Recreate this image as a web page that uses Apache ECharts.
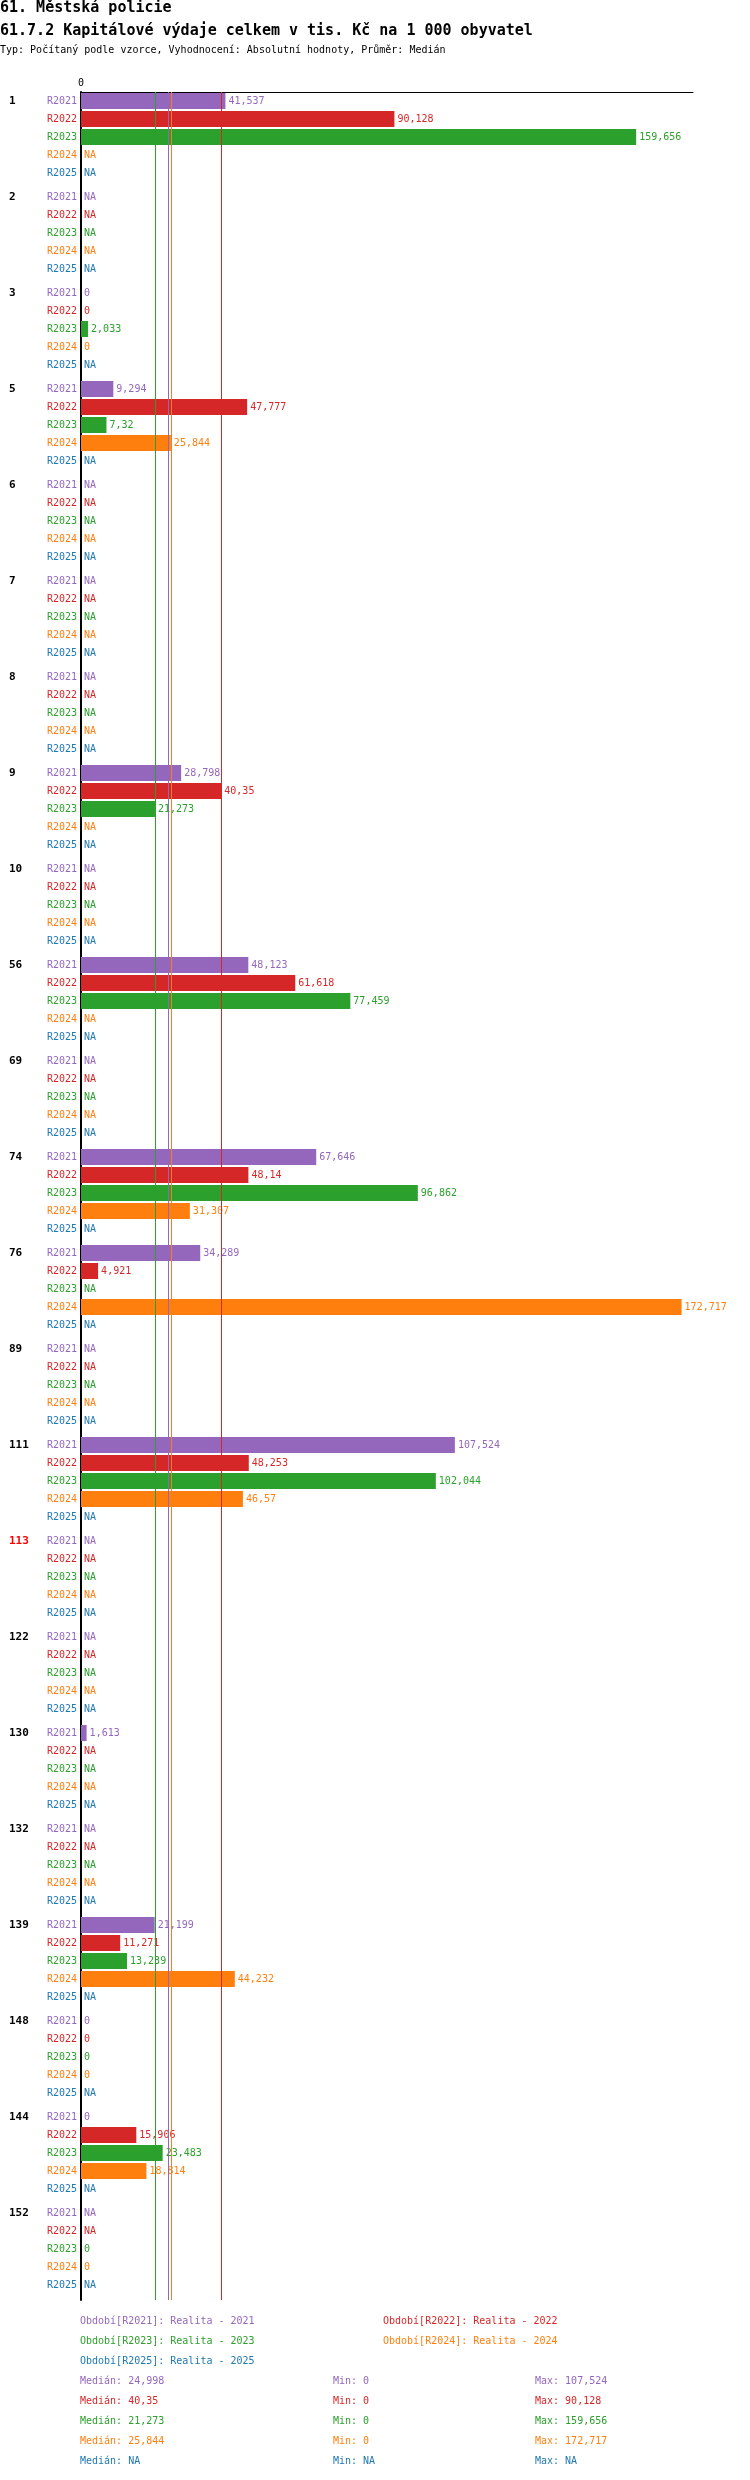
<!DOCTYPE html>
<html>
<head>
<meta charset="utf-8">
<script src="https://cdn.jsdelivr.net/npm/echarts@6/dist/echarts.min.js"></script>
<style>
  html, body { margin: 0; padding: 0; background: #fff; }
  #chart { width: 750px; height: 2480px; }
</style>
</head>
<body>
<div id="chart"></div>
<script>
const groups = ['1', '2', '3', '5', '6', '7', '8', '9', '10', '56', '69', '74', '76', '89', '111', '113', '122', '130', '132', '139', '148', '144', '152']
const highlightGroup = '113'
const periods = ['R2021', 'R2022', 'R2023', 'R2024', 'R2025']
const periodNames = ['Realita - 2021', 'Realita - 2022', 'Realita - 2023', 'Realita - 2024', 'Realita - 2025']
const colors = ['#9467bd', '#d62728', '#2ca02c', '#ff7f0e', '#1f77b4']

// hodnoty po skupinach, null = NA
const r2021 = [41.537, null, 0, 9.294, null, null, null, 28.798, null, 48.123, null, 67.646, 34.289, null, 107.524, null, null, 1.613, null, 21.199, 0, 0, null]
const r2022 = [90.128, null, 0, 47.777, null, null, null, 40.35, null, 61.618, null, 48.14, 4.921, null, 48.253, null, null, null, null, 11.271, 0, 15.906, null]
const r2023 = [159.656, null, 2.033, 7.32, null, null, null, 21.273, null, 77.459, null, 96.862, null, null, 102.044, null, null, null, null, 13.239, 0, 23.483, 0]
const r2024 = [null, null, 0, 25.844, null, null, null, null, null, null, null, 31.307, 172.717, null, 46.57, null, null, null, null, 44.232, 0, 18.814, 0]
const r2025 = [null, null, null, null, null, null, null, null, null, null, null, null, null, null, null, null, null, null, null, null, null, null, null]
const values = [r2021, r2022, r2023, r2024, r2025]

const medians = [24.998, 40.35, 21.273, 25.844, null]
const mins = [0, 0, 0, 0, null]
const maxs = [107.524, 90.128, 159.656, 172.717, null]

const fmt = v => (v === null ? 'NA' : String(v).replace('.', ','))

// 6px sloty: řádek = 3 sloty, mezera mezi skupinami = 1 slot
const SLOTS_PER_GROUP = 16
const slots = []
for (let g = 0; g < groups.length; g++) {
  for (let s = 0; s < SLOTS_PER_GROUP; s++) slots.push(g + '_' + s)
}
const rowSlot = (g, r) => g * SLOTS_PER_GROUP + r * 3 + 1

const series = periods.map((p, r) => {
  const data = slots.map(() => '-')
  groups.forEach((g, gi) => {
    const v = values[r][gi]
    data[rowSlot(gi, r)] = v === null ? { value: 0, na: true } : { value: v }
  })
  return {
    name: p,
    type: 'bar',
    data: data,
    barWidth: 16,
    barGap: '-100%',
    itemStyle: { color: colors[r] },
    label: {
      show: true,
      position: 'right',
      distance: 3,
      color: colors[r],
      fontFamily: 'DejaVu Sans Mono',
      fontSize: 10,
      formatter: prm => (prm.data.na ? 'NA' : fmt(prm.data.value))
    },
    markLine: medians[r] === null ? undefined : {
      silent: true,
      symbol: 'none',
      label: { show: false },
      lineStyle: { color: colors[r], type: 'solid', width: 1 },
      data: [{ xAxis: medians[r] }],
      z: 10
    }
  }
})

const rowLabel = idx => {
  const s = idx % SLOTS_PER_GROUP
  if (s === SLOTS_PER_GROUP - 1 || (s - 1) % 3 !== 0) return ''
  const r = (s - 1) / 3
  return '{c' + r + '|' + periods[r] + '}'
}
const rich = {}
colors.forEach((c, i) => { rich['c' + i] = { color: c, fontFamily: 'DejaVu Sans Mono', fontSize: 10 } })

const graphics = []
const font = (size, weight) => (weight || 'normal') + ' ' + size + 'px "DejaVu Sans Mono"'
graphics.push({ type: 'text', left: 0, top: 1, style: { text: '61. Městská policie', font: font(15, 'bold'), fill: '#000' } })
graphics.push({ type: 'text', left: 0, top: 24, style: { text: '61.7.2 Kapitálové výdaje celkem v tis. Kč na 1 000 obyvatel', font: font(15, 'bold'), fill: '#000' } })
graphics.push({ type: 'text', left: 0, top: 45, style: { text: 'Typ: Počítaný podle vzorce, Vyhodnocení: Absolutní hodnoty, Průměr: Medián', font: font(10), fill: '#000' } })
periods.forEach((p, i) => {
  graphics.push({
    type: 'text', left: i % 2 === 0 ? 80 : 383, top: 2316 + Math.floor(i / 2) * 20,
    style: { text: 'Období[' + p + ']: ' + periodNames[i], font: font(10), fill: colors[i] }
  })
  const y = 2376 + i * 20
  graphics.push({ type: 'text', left: 80, top: y, style: { text: 'Medián: ' + fmt(medians[i]), font: font(10), fill: colors[i] } })
  graphics.push({ type: 'text', left: 333, top: y, style: { text: 'Min: ' + fmt(mins[i]), font: font(10), fill: colors[i] } })
  graphics.push({ type: 'text', left: 535, top: y, style: { text: 'Max: ' + fmt(maxs[i]), font: font(10), fill: colors[i] } })
})

const option = {
  animation: false,
  backgroundColor: '#fff',
  grid: { left: 81, right: 57, top: 92, bottom: 180, containLabel: false },
  xAxis: {
    type: 'value',
    position: 'top',
    min: 0,
    max: 176,
    interval: 44,
    splitLine: { show: false },
    axisTick: { show: false },
    axisLine: { show: true, lineStyle: { color: '#000', width: 1 } },
    axisLabel: {
      margin: 4,
      fontFamily: 'DejaVu Sans Mono', fontSize: 10, color: '#000',
      formatter: v => (v === 0 ? '0' : '')
    }
  },
  yAxis: [
    {
      type: 'category',
      data: slots,
      inverse: true,
      axisTick: { show: false },
      axisLine: { show: true, onZero: false, lineStyle: { color: '#000', width: 2 } },
      axisLabel: { interval: 0, margin: 4, formatter: (v, idx) => rowLabel(idx), rich: rich }
    },
    {
      type: 'category',
      data: slots,
      inverse: true,
      position: 'left',
      axisTick: { show: false },
      axisLine: { show: false },
      axisLabel: {
        interval: 0,
        margin: 72,
        align: 'left',
        fontFamily: 'DejaVu Sans Mono',
        fontSize: 11,
        fontWeight: 'bold',
        formatter: (v, idx) => {
          if (idx % SLOTS_PER_GROUP !== 1) return ''
          const g = groups[Math.floor(idx / SLOTS_PER_GROUP)]
          return g === highlightGroup ? '{h|' + g + '}' : g
        },
        rich: { h: { color: '#ff0000', fontFamily: 'DejaVu Sans Mono', fontSize: 11, fontWeight: 'bold' } },
        color: '#000'
      }
    }
  ],
  series: series,
  graphic: graphics
}

echarts.init(document.getElementById('chart')).setOption(option)
</script>
</body>
</html>
